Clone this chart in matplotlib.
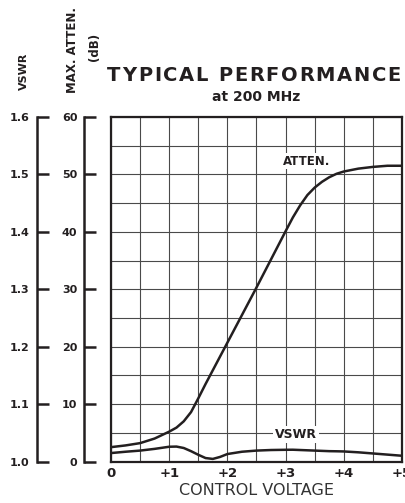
import matplotlib.pyplot as plt
from matplotlib.font_manager import FontProperties

INK = "#231f20"
GRID = "#4a4a4a"

# control voltage (V) and readings taken off the chart
voltage = [0.0, 0.25, 0.5, 0.75, 1.0, 1.125, 1.25, 1.375, 1.5, 1.625, 1.75, 1.875, 2.0,
           2.25, 2.5, 2.75, 3.0, 3.125, 3.25, 3.375, 3.5, 3.625, 3.75, 3.875, 4.0,
           4.25, 4.5, 4.75, 5.0]
atten_db = [2.5, 2.8, 3.2, 4.0, 5.2, 5.9, 7.0, 8.6, 11.0, 13.5, 15.9, 18.3, 20.7,
            25.5, 30.3, 35.2, 40.1, 42.5, 44.6, 46.4, 47.7, 48.7, 49.5, 50.1, 50.5,
            51.0, 51.3, 51.5, 51.5]
vswr = [1.0147, 1.017, 1.019, 1.022, 1.0257, 1.026, 1.0235, 1.018, 1.0117, 1.006, 1.0045, 1.008, 1.013,
        1.017, 1.019, 1.020, 1.0204, 1.0205, 1.020, 1.0195, 1.019, 1.0185, 1.018, 1.0178, 1.0175,
        1.016, 1.014, 1.012, 1.010]

x_ticks = [0, 1, 2, 3, 4, 5]
x_labels = ["0", "+1", "+2", "+3", "+4", "+5"]
atten_ticks = [0, 10, 20, 30, 40, 50, 60]
vswr_ticks = [1.0, 1.1, 1.2, 1.3, 1.4, 1.5, 1.6]

plt.rcParams["font.family"] = "DejaVu Sans"

fig = plt.figure(figsize=(4.06, 5.03), dpi=100, facecolor="white")

bottom, height = 0.0825, 0.685
ax = fig.add_axes([0.2734, bottom, 0.7167, height])
ax.set_xlim(0, 5)
ax.set_ylim(0, 60)
ax.set_xticks(x_ticks)
ax.set_xticklabels(x_labels, fontsize=9.5, fontweight="bold", color=INK)
ax.set_xticks([0.5 + i for i in range(5)], minor=True)
ax.set_yticks(list(range(0, 61, 5)))
ax.set_yticklabels([])
ax.tick_params(axis="both", which="both", length=0, pad=4)
ax.grid(True, which="both", color=GRID, linewidth=0.8)
for spine in ax.spines.values():
  spine.set_linewidth(1.6)
  spine.set_color(INK)
ax.set_axisbelow(True)

ax.plot(voltage, atten_db, color=INK, linewidth=1.8, zorder=3)

vax = ax.twinx()
vax.set_ylim(1.0, 1.6)
vax.axis("off")
vax.plot(voltage, vswr, color=INK, linewidth=1.8, zorder=3)

ax.text(3.37, 52.3, "ATTEN.", ha="center", va="center", fontsize=8.5, fontweight="bold",
        color=INK, bbox=dict(facecolor="white", edgecolor="none", pad=1.2), zorder=4)
ax.text(3.18, 4.7, "VSWR", ha="center", va="center", fontsize=9, fontweight="bold",
        color=INK, bbox=dict(facecolor="white", edgecolor="none", pad=1.2), zorder=4)

ax.set_xlabel("CONTROL VOLTAGE", fontsize=11.5, color="#333333", labelpad=2)


def side_axis(xpos, lo, hi, ticks, labels):
  sa = fig.add_axes([xpos, bottom, 0.03, height])
  sa.set_ylim(lo, hi)
  sa.set_yticks(ticks)
  sa.set_yticklabels(labels, fontsize=8, fontweight="bold", color=INK)
  sa.set_xticks([])
  for name in ["top", "right", "bottom"]:
    sa.spines[name].set_visible(False)
  sa.spines["left"].set_linewidth(1.8)
  sa.spines["left"].set_color(INK)
  sa.tick_params(axis="y", direction="in", length=8.5, width=1.8, color=INK, pad=5)
  sa.patch.set_alpha(0)
  return sa


side_axis(0.0904, 1.0, 1.6, vswr_ticks, [f"{v:.1f}" for v in vswr_ticks])
side_axis(0.2076, 0, 60, atten_ticks, [str(v) for v in atten_ticks])

fig.text(23.5 / 406, 1 - 71 / 503, "VSWR", rotation=90, ha="center", va="center",
         fontsize=8, fontweight="bold", color=INK)
fig.text(73 / 406, 1 - 50 / 503, "MAX. ATTEN.", rotation=90, ha="center", va="center",
         fontsize=8.5, fontweight="bold", color=INK)
fig.text(95 / 406, 1 - 47 / 503, "(dB)", rotation=90, ha="center", va="center",
         fontsize=8.5, fontweight="bold", color=INK)


# letter-spaced title, laid out character by character
def tracked_text(s, x0, x1, y, size):
  prop = FontProperties(family="DejaVu Sans", weight="bold", size=size)
  renderer = fig.canvas.get_renderer()
  widths = [renderer.get_text_width_height_descent(s[:i], prop, ismath=False)[0] if i else 0.0
            for i in range(len(s) + 1)]
  total = widths[-1]
  gap = ((x1 - x0) - total) / (len(s) - 1)
  for i, ch in enumerate(s):
    if ch == " ":
      continue
    fig.text((x0 + widths[i] + i * gap) / 406, y, ch, fontproperties=prop,
             ha="left", va="center", color=INK)


tracked_text("TYPICAL PERFORMANCE", 107, 401, 1 - 75.5 / 503, 14)
fig.text(256 / 406, 1 - 97 / 503, "at 200 MHz", ha="center", va="center",
         fontsize=10, fontweight="bold", color=INK)

fig.savefig("out.png", dpi=100, facecolor="white")
